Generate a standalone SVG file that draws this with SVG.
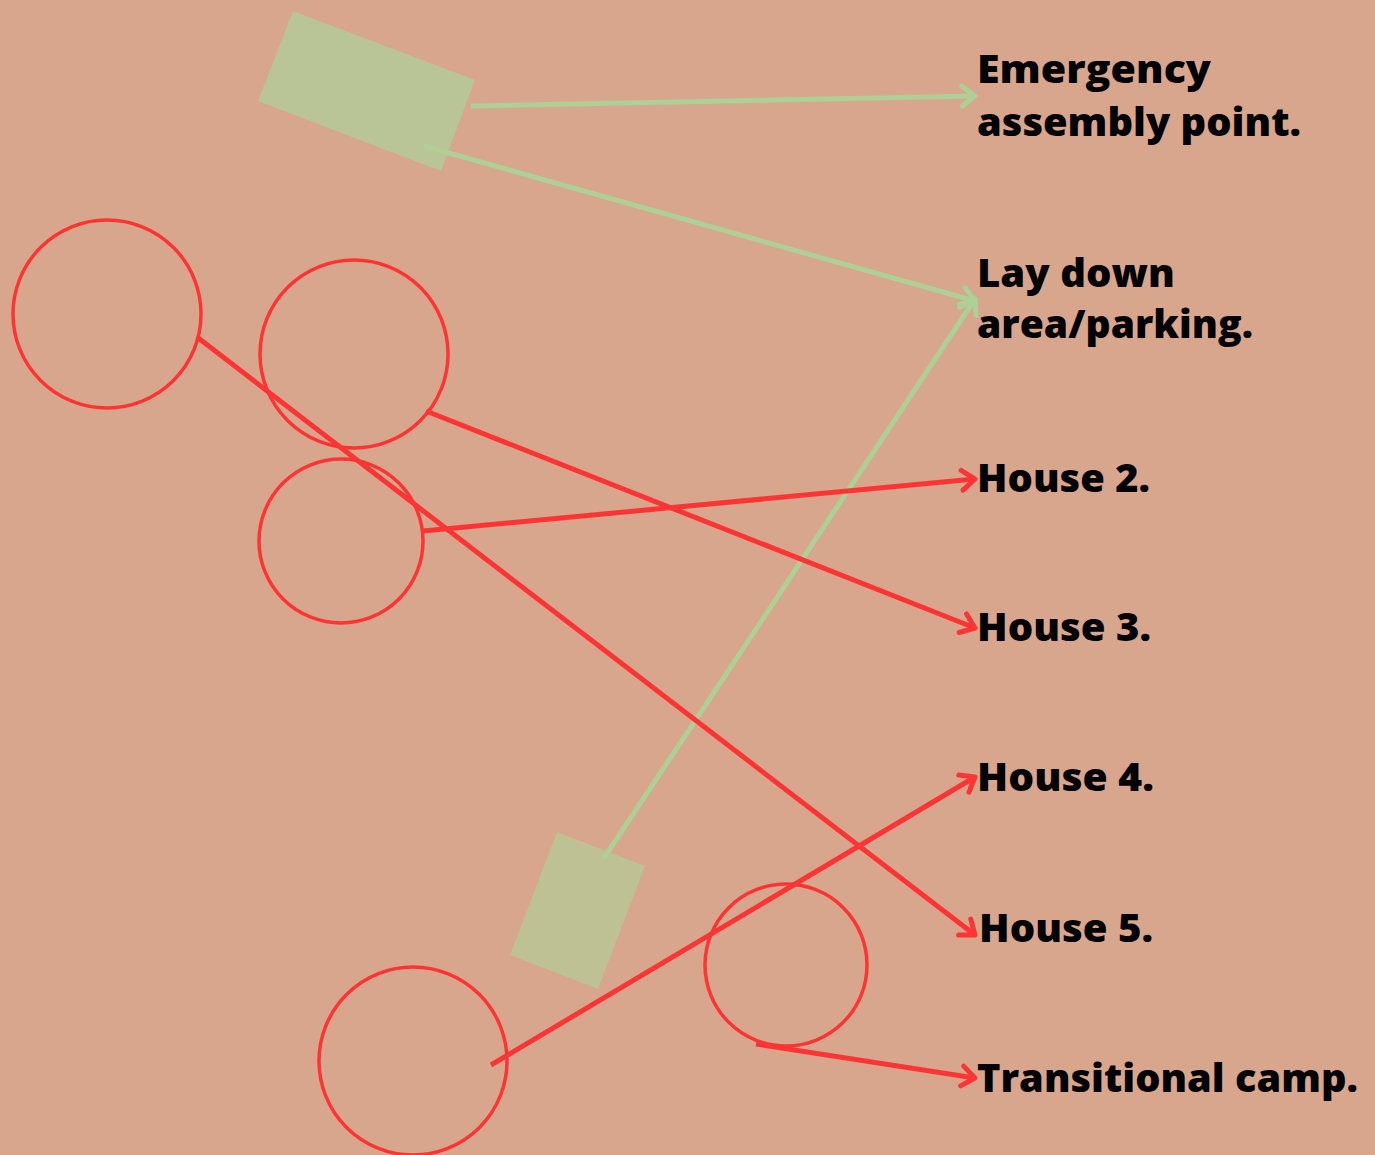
<svg xmlns="http://www.w3.org/2000/svg" width="1375" height="1155" viewBox="0 0 1375 1155">
<style>
.bg{fill:#d7a68d}
.house{fill:none;stroke:#ff3535;stroke-width:3.5}
.area{stroke:none}
.red{fill:none;stroke:#ff3535;stroke-width:5}
.green{fill:none;stroke:#aecf95;stroke-width:5}
.lbl{font-family:"Open Sans","DejaVu Sans",sans-serif;font-weight:800;font-size:39px;fill:#000}
</style>
<defs>
<marker id="ar" markerUnits="userSpaceOnUse" viewBox="-20 -15 30 30" markerWidth="30" markerHeight="30" refX="0" refY="0" orient="auto">
<path d="M-13,-10 L0,0 L-13,10" fill="none" stroke="#ff3535" stroke-width="5" stroke-linecap="round" stroke-linejoin="round"/>
</marker>
<marker id="ag" markerUnits="userSpaceOnUse" viewBox="-20 -15 30 30" markerWidth="30" markerHeight="30" refX="0" refY="0" orient="auto">
<path d="M-13,-10 L0,0 L-13,10" fill="none" stroke="#aecf95" stroke-width="5" stroke-linecap="round" stroke-linejoin="round"/>
</marker>
</defs>
<rect class="bg" x="0" y="0" width="1375" height="1155"/>
<g id="assembly-area"><polygon class="area" fill="#b9c596" points="293,11 475,80 441,171 258,101"/></g>
<g id="laydown-area"><polygon class="area" fill="#bdc194" points="557,832 645,866 598,989 510,955"/></g>
<g id="house-a"><circle class="house" cx="107" cy="314" r="94"/></g>
<g id="house-b"><circle class="house" cx="354" cy="354" r="94"/></g>
<g id="house-c"><circle class="house" cx="341" cy="541" r="82"/></g>
<g id="house-d"><circle class="house" cx="413" cy="1061" r="94"/></g>
<g id="house-e"><circle class="house" cx="786" cy="965" r="81"/></g>
<g id="connectors">
<line class="green" x1="471" y1="106" x2="975" y2="96" marker-end="url(#ag)"/>
<line class="green" x1="424" y1="146" x2="975" y2="301" marker-end="url(#ag)"/>
<line class="green" x1="604" y1="858" x2="975" y2="299" marker-end="url(#ag)"/>
<line class="red" x1="197" y1="337" x2="975" y2="935" marker-end="url(#ar)"/>
<line class="red" x1="426" y1="411" x2="975" y2="628" marker-end="url(#ar)"/>
<line class="red" x1="423" y1="531" x2="975" y2="479" marker-end="url(#ar)"/>
<line class="red" x1="491" y1="1065" x2="975" y2="777" marker-end="url(#ar)"/>
<line class="red" x1="756" y1="1044" x2="975" y2="1078" marker-end="url(#ar)"/>
</g>
<g id="labels">
<text class="lbl" x="977" y="83" textLength="234" lengthAdjust="spacingAndGlyphs">Emergency</text>
<text class="lbl" x="977" y="136" textLength="324" lengthAdjust="spacingAndGlyphs">assembly point.</text>
<text class="lbl" x="977" y="287" textLength="198" lengthAdjust="spacingAndGlyphs">Lay down</text>
<text class="lbl" x="977" y="338" textLength="276" lengthAdjust="spacingAndGlyphs">area/parking.</text>
<text class="lbl" x="977" y="492" textLength="173" lengthAdjust="spacingAndGlyphs">House 2.</text>
<text class="lbl" x="977" y="641" textLength="174" lengthAdjust="spacingAndGlyphs">House 3.</text>
<text class="lbl" x="977" y="791" textLength="177" lengthAdjust="spacingAndGlyphs">House 4.</text>
<text class="lbl" x="979" y="942" textLength="174" lengthAdjust="spacingAndGlyphs">House 5.</text>
<text class="lbl" x="977" y="1092" textLength="381" lengthAdjust="spacingAndGlyphs">Transitional camp.</text>
</g>
</svg>
